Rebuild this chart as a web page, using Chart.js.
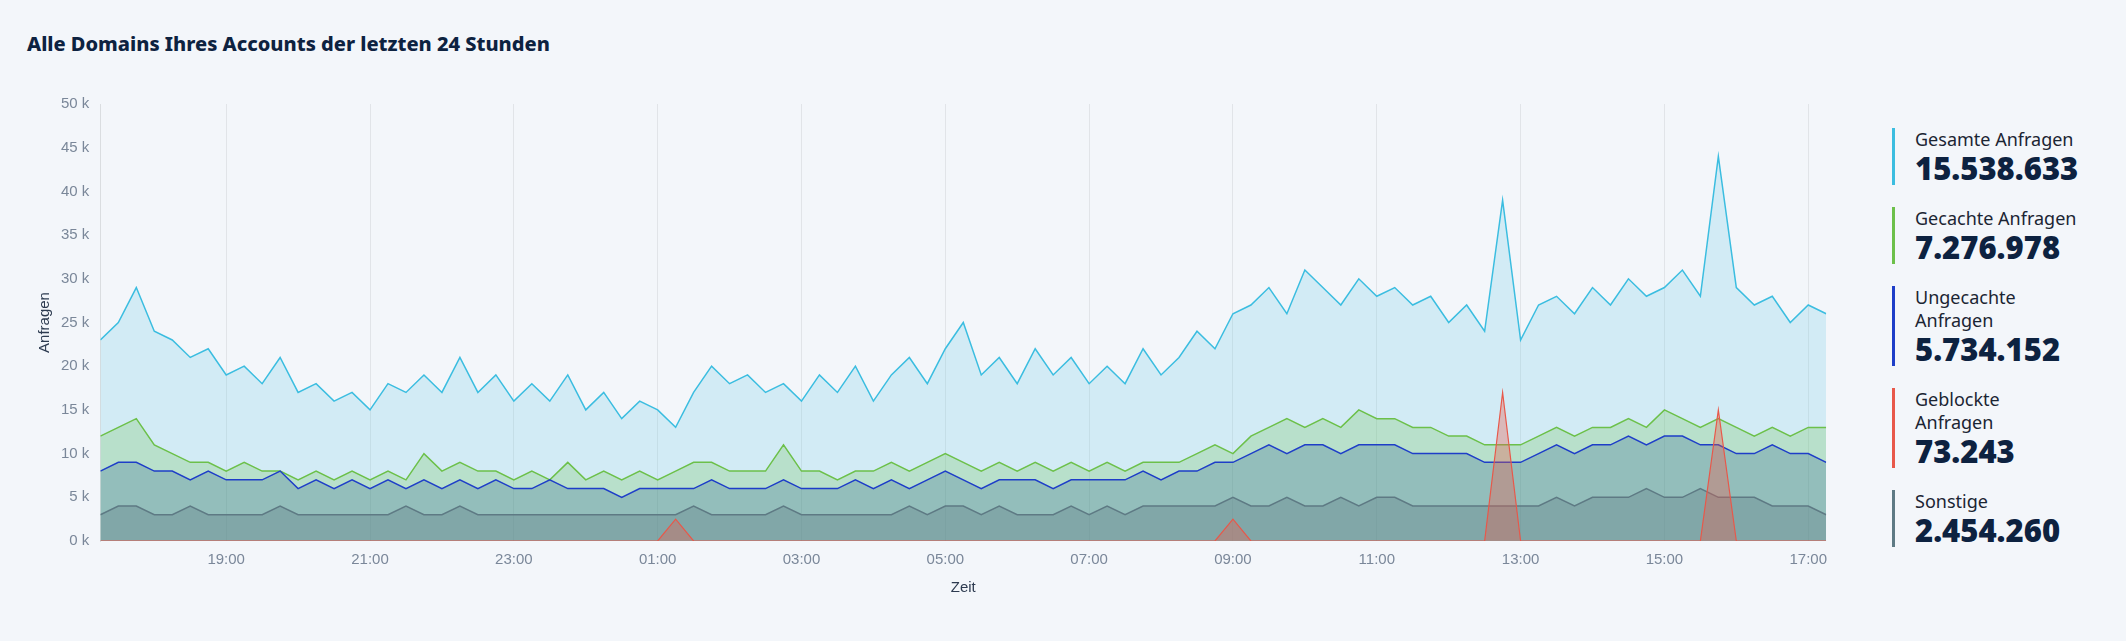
<!DOCTYPE html>
<html lang="de">
<head>
<meta charset="utf8" />
<script src="https://cdn.jsdelivr.net/npm/chart.js@4.4.1/dist/chart.umd.min.js"></script>
<title>Anfragen</title>
<style>
  body { margin: 0; background: #f3f6fa; font-family: "Noto Sans", sans-serif; width: 2126px; height: 641px; overflow: hidden; position: relative; }
  h1 { position: absolute; left: 27px; top: 30px; margin: 0; font-size: 20px; font-weight: 800; color: #0d2240; }
  #wrap { position: absolute; left: 32px; top: 92px; width: 1805px; height: 505px; }
  #legend { position: absolute; left: 1892px; top: 128px; width: 200px; }
  .item { border-left: 3px solid; padding-left: 20px; margin-bottom: 22px; }
  .lbl { font-size: 18px; color: #1b2533; line-height: 23px; }
  .num { font-size: 31px; font-weight: 900; color: #0d2240; line-height: 34px; }
</style>
</head>
<body>
<h1>Alle Domains Ihres Accounts der letzten 24 Stunden</h1>
<div id="wrap"><canvas id="c"></canvas></div>
<div id="legend"></div>
<script>
// values in thousands, every 15 minutes from 17:15 to 17:15 next day
const startHour = 17.25;
const gesamt = [23,25,29,24, 23,21,22,19, 20,18,21,17, 18,16,17,15, 18,17,19,17, 21,17,19,16, 18,16,19,15, 17,14,16,15,
  13,17,20,18, 19,17,18,16, 19,17,20,16, 19,21,18,22, 25,19,21,18, 22,19,21,18, 20,18,22,19, 21,24,22,26,
  27,29,26,31, 29,27,30,28, 29,27,28,25, 27,24,39,23, 27,28,26,29, 27,30,28,29, 31,28,44,29, 27,28,25,27, 26];
const gecacht = [12,13,14,11, 10,9,9,8, 9,8,8,7, 8,7,8,7, 8,7,10,8, 9,8,8,7, 8,7,9,7, 8,7,8,7,
  8,9,9,8, 8,8,11,8, 8,7,8,8, 9,8,9,10, 9,8,9,8, 9,8,9,8, 9,8,9,9, 9,10,11,10,
  12,13,14,13, 14,13,15,14, 14,13,13,12, 12,11,11,11, 12,13,12,13, 13,14,13,15, 14,13,14,13, 12,13,12,13, 13];
const ungecacht = [8,9,9,8, 8,7,8,7, 7,7,8,6, 7,6,7,6, 7,6,7,6, 7,6,7,6, 6,7,6,6, 6,5,6,6,
  6,6,7,6, 6,6,7,6, 6,6,7,6, 7,6,7,8, 7,6,7,7, 7,6,7,7, 7,7,8,7, 8,8,9,9,
  10,11,10,11, 11,10,11,11, 11,10,10,10, 10,9,9,9, 10,11,10,11, 11,12,11,12, 12,11,11,10, 10,11,10,10, 9];
const geblockt = [0,0,0,0, 0,0,0,0, 0,0,0,0, 0,0,0,0, 0,0,0,0, 0,0,0,0, 0,0,0,0, 0,0,0,0,
  2.5,0,0,0, 0,0,0,0, 0,0,0,0, 0,0,0,0, 0,0,0,0, 0,0,0,0, 0,0,0,0, 0,0,0,2.5,
  0,0,0,0, 0,0,0,0, 0,0,0,0, 0,0,17,0, 0,0,0,0, 0,0,0,0, 0,0,15,0, 0,0,0,0, 0];
const sonstige = [3,4,4,3, 3,4,3,3, 3,3,4,3, 3,3,3,3, 3,4,3,3, 4,3,3,3, 3,3,3,3, 3,3,3,3,
  3,4,3,3, 3,3,4,3, 3,3,3,3, 3,4,3,4, 4,3,4,3, 3,3,4,3, 4,3,4,4, 4,4,4,5,
  4,4,5,4, 4,5,4,5, 5,4,4,4, 4,4,4,4, 4,5,4,5, 5,5,6,5, 5,6,5,5, 5,4,4,4, 3];
const tickHours = [19, 21, 23, 25, 27, 29, 31, 33, 35, 37, 39, 41];
const legendItems = [
  ['Gesamte Anfragen', '15.538.633', '#3bbde0'],
  ['Gecachte Anfragen', '7.276.978', '#6cc04a'],
  ['Ungecachte<br>Anfragen', '5.734.152', '#1e3ec8'],
  ['Geblockte<br>Anfragen', '73.243', '#e8584a'],
  ['Sonstige', '2.454.260', '#5e7a84']
];

const pts = arr => arr.map((v, i) => ({ x: startHour + i * 0.25, y: v }));
const ds = (data, line, fill, w) => ({ data: pts(data), borderColor: line, backgroundColor: fill, fill: 'origin',
  borderWidth: w || 1.5, pointRadius: 0, tension: 0 });

const leg = document.getElementById('legend');
legendItems.forEach(([l, n, c]) => {
  leg.innerHTML += `<div class="item" style="border-color:${c}"><div class="lbl">${l}</div><div class="num">${n}</div></div>`;
});

const axisText = '#7a8799';
new Chart(document.getElementById('c'), {
  type: 'line',
  data: {
    datasets: [
      ds(geblockt, '#e8584a', 'rgba(232,88,74,0.35)', 1.2),
      ds(sonstige, '#5e7a84', 'rgba(94,122,132,0.35)'),
      ds(ungecacht, '#1e3ec8', 'rgba(60,110,150,0.3)'),
      ds(gecacht, '#6cc04a', 'rgba(108,192,74,0.25)'),
      ds(gesamt, '#3bbde0', 'rgba(59,189,224,0.18)')
    ]
  },
  options: {
    responsive: true, maintainAspectRatio: false, animation: false,
    plugins: { legend: { display: false }, tooltip: { enabled: false } },
    scales: {
      x: {
        type: 'linear', min: startHour, max: startHour + 24,
        afterBuildTicks: axis => { axis.ticks = tickHours.map(v => ({ value: v })); },
        ticks: { color: axisText, font: { size: 15 }, padding: 10, callback: v => String(v % 24).padStart(2, '0') + ':00' },
        grid: { color: 'rgba(0,0,0,0.07)', drawTicks: false },
        border: { display: false },
        title: { display: true, text: 'Zeit', color: '#2d3b50', font: { size: 15 }, padding: 0 }
      },
      y: {
        min: 0, max: 50,
        ticks: { stepSize: 5, color: axisText, font: { size: 15 }, callback: v => v + ' k' },
        grid: { display: false },
        border: { display: true, color: 'rgba(0,0,0,0.1)' },
        title: { display: true, text: 'Anfragen', color: '#2d3b50', font: { size: 15 } }
      }
    }
  }
});
</script>
</body>
</html>
